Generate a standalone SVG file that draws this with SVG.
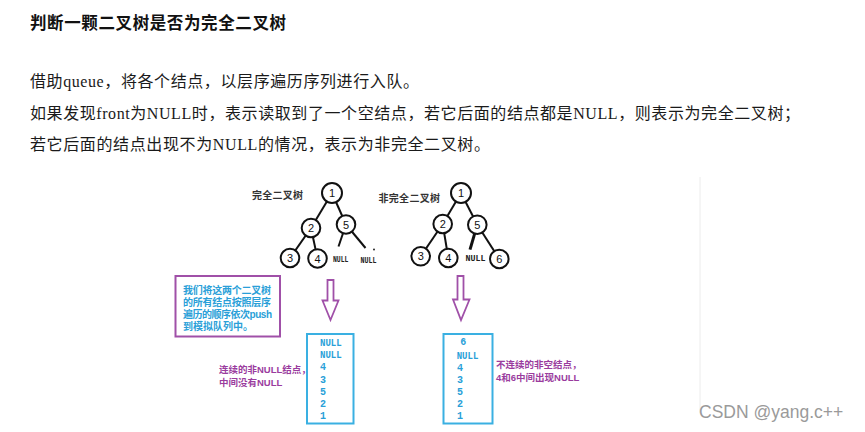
<svg xmlns="http://www.w3.org/2000/svg" width="865" height="432" viewBox="0 0 865 432">
<defs>
<style>
.main{font-family:"Liberation Serif","Noto Sans CJK SC",serif;font-size:16px;fill:#1a1a1a}
.title{font-family:"Liberation Serif","Noto Sans CJK SC",serif;font-size:16.5px;font-weight:bold;fill:#111}
.tlabel{font-family:"Liberation Sans","Noto Sans CJK SC",sans-serif;font-size:10px;font-weight:bold;fill:#333}
.node circle{fill:#fff;stroke:#111;stroke-width:2}
.node text{font-family:"Liberation Sans",sans-serif;font-size:11px;fill:#111;text-anchor:middle}
.edge{stroke:#111;stroke-width:2;fill:none}
.null{font-family:"Liberation Mono",monospace;font-size:9px;font-weight:bold;fill:#222}
.arrow{fill:#fff;stroke:#a050a8;stroke-width:1.8;stroke-linejoin:miter}
.pbox{fill:#fff;stroke:#a050a8;stroke-width:2}
.btxt{font-family:"Liberation Sans","Noto Sans CJK SC",sans-serif;font-size:10px;font-weight:bold;fill:#2a9fd8}
.qbox{fill:#fff;stroke:#3ab0e2;stroke-width:2}
.qtxt{font-family:"Liberation Mono",monospace;font-size:10px;font-weight:bold;fill:#2a9fd8}
.ann{font-family:"Liberation Sans","Noto Sans CJK SC",sans-serif;font-size:9.5px;font-weight:bold;fill:#9a3c9e}
.wm{font-family:"Liberation Sans",sans-serif;font-size:17.5px;fill:#9a9a9a}
</style>
</defs>
<rect width="865" height="432" fill="#fff"/>

<g id="text-block">
<text class="title" x="30" y="28.5" textLength="256">判断一颗二叉树是否为完全二叉树</text>
<text class="main" x="30" y="87" textLength="389">借助queue，将各个结点，以层序遍历序列进行入队。</text>
<text class="main" x="30" y="119" textLength="770">如果发现front为NULL时，表示读取到了一个空结点，若它后面的结点都是NULL，则表示为完全二叉树；</text>
<text class="main" x="30" y="150" textLength="460">若它后面的结点出现不为NULL的情况，表示为非完全二叉树。</text>
</g>

<line x1="700" y1="177" x2="700" y2="413" stroke="#ececec" stroke-width="1"/>

<g id="connectors">
<line class="edge" x1="332" y1="193" x2="311" y2="228"/>
<line class="edge" x1="332" y1="193" x2="346" y2="224.5"/>
<line class="edge" x1="311" y1="228" x2="290" y2="258"/>
<line class="edge" x1="311" y1="228" x2="317.5" y2="258.5"/>
<line class="edge" x1="346" y1="224.5" x2="338.5" y2="246.5"/>
<line class="edge" x1="346" y1="224.5" x2="365.5" y2="248"/>
<circle cx="374" cy="249.5" r="0.9" fill="#111"/>
<line class="edge" x1="461" y1="193" x2="442.7" y2="224"/>
<line class="edge" x1="461" y1="193" x2="477.3" y2="224.7"/>
<line class="edge" x1="442.7" y1="224" x2="420.7" y2="256.3"/>
<line class="edge" x1="442.7" y1="224" x2="448.3" y2="258"/>
<line class="edge" x1="477.3" y1="224.7" x2="470" y2="249.7" style="stroke-width:3"/>
<line class="edge" x1="477.3" y1="224.7" x2="499.3" y2="259"/>
</g>

<g id="label-complete"><text class="tlabel" x="252" y="198.5" textLength="51">完全二叉树</text></g>
<g id="label-incomplete"><text class="tlabel" x="378.5" y="201.5" textLength="61.5">非完全二叉树</text></g>

<g id="tree1-n1" class="node"><circle cx="332" cy="193" r="10"/><text x="332" y="197">1</text></g>
<g id="tree1-n2" class="node"><circle cx="311" cy="228" r="9.3"/><text x="311" y="232">2</text></g>
<g id="tree1-n5" class="node"><circle cx="346" cy="224.5" r="9.3"/><text x="346" y="228.5">5</text></g>
<g id="tree1-n3" class="node"><circle cx="290" cy="258" r="9.3"/><text x="290" y="262">3</text></g>
<g id="tree1-n4" class="node"><circle cx="317.5" cy="258.5" r="9.3"/><text x="317.5" y="262.5">4</text></g>
<g id="tree1-null1"><text class="null" x="333" y="262" textLength="15.5" lengthAdjust="spacingAndGlyphs">NULL</text></g>
<g id="tree1-null2"><text class="null" x="360.5" y="263" textLength="16" lengthAdjust="spacingAndGlyphs">NULL</text></g>

<g id="tree2-n1" class="node"><circle cx="461" cy="193" r="10"/><text x="461" y="197">1</text></g>
<g id="tree2-n2" class="node"><circle cx="442.7" cy="224" r="9.3"/><text x="442.7" y="228">2</text></g>
<g id="tree2-n5" class="node"><circle cx="477.3" cy="224.7" r="9.3"/><text x="477.3" y="228.7">5</text></g>
<g id="tree2-n3" class="node"><circle cx="420.7" cy="256.3" r="9.3"/><text x="420.7" y="260.3">3</text></g>
<g id="tree2-n4" class="node"><circle cx="448.3" cy="258" r="9.3"/><text x="448.3" y="262">4</text></g>
<g id="tree2-null"><text class="null" x="465.5" y="260.5" textLength="20" lengthAdjust="spacingAndGlyphs">NULL</text></g>
<g id="tree2-n6" class="node"><circle cx="499.3" cy="259" r="9.3"/><text x="499.3" y="263">6</text></g>

<g id="note-box">
<rect class="pbox" x="175.5" y="276" width="104.5" height="60.5"/>
<text class="btxt" x="183" y="293.5" textLength="88">我们将这两个二叉树</text>
<text class="btxt" x="183" y="305.8" textLength="88">的所有结点按照层序</text>
<text class="btxt" x="183" y="318.1" textLength="89">遍历的顺序依次push</text>
<text class="btxt" x="183" y="330.4">到模拟队列中。</text>
</g>

<g id="arrow-left"><polygon class="arrow" points="327.5,280 333.5,280 333.5,300.5 338.5,300.5 330.5,320 322.5,300.5 327.5,300.5"/></g>
<g id="arrow-right"><polygon class="arrow" points="457.5,276 463.5,276 463.5,299.5 469.5,299.5 461,320 453,299.5 457.5,299.5"/></g>

<g id="queue-left">
<rect class="qbox" x="307" y="334" width="46.5" height="89.5"/>
<text class="qtxt" x="320" y="346" textLength="21.7" lengthAdjust="spacingAndGlyphs">NULL</text>
<text class="qtxt" x="320" y="358.2" textLength="21.7" lengthAdjust="spacingAndGlyphs">NULL</text>
<text class="qtxt" x="320" y="370.4">4</text>
<text class="qtxt" x="320" y="382.6">3</text>
<text class="qtxt" x="320" y="394.8">5</text>
<text class="qtxt" x="320" y="407">2</text>
<text class="qtxt" x="320" y="419.2">1</text>
</g>

<g id="queue-right">
<rect class="qbox" x="443.5" y="334" width="49" height="89.5"/>
<text class="qtxt" x="463.3" y="345.2" text-anchor="middle">6</text>
<text class="qtxt" x="456.7" y="358.5" textLength="21.6" lengthAdjust="spacingAndGlyphs">NULL</text>
<text class="qtxt" x="457" y="371.2">4</text>
<text class="qtxt" x="457" y="382.6">3</text>
<text class="qtxt" x="457" y="395.2">5</text>
<text class="qtxt" x="457" y="406.8">2</text>
<text class="qtxt" x="457" y="419.2">1</text>
</g>

<g id="note-left">
<text class="ann" x="219" y="372.5">连续的非NULL结点，</text>
<text class="ann" x="219" y="385.5">中间没有NULL</text>
</g>
<g id="note-right">
<text class="ann" x="496" y="368">不连续的非空结点，</text>
<text class="ann" x="496" y="381">4和6中间出现NULL</text>
</g>

<text class="wm" x="699" y="418">CSDN @yang.c++</text>
</svg>
